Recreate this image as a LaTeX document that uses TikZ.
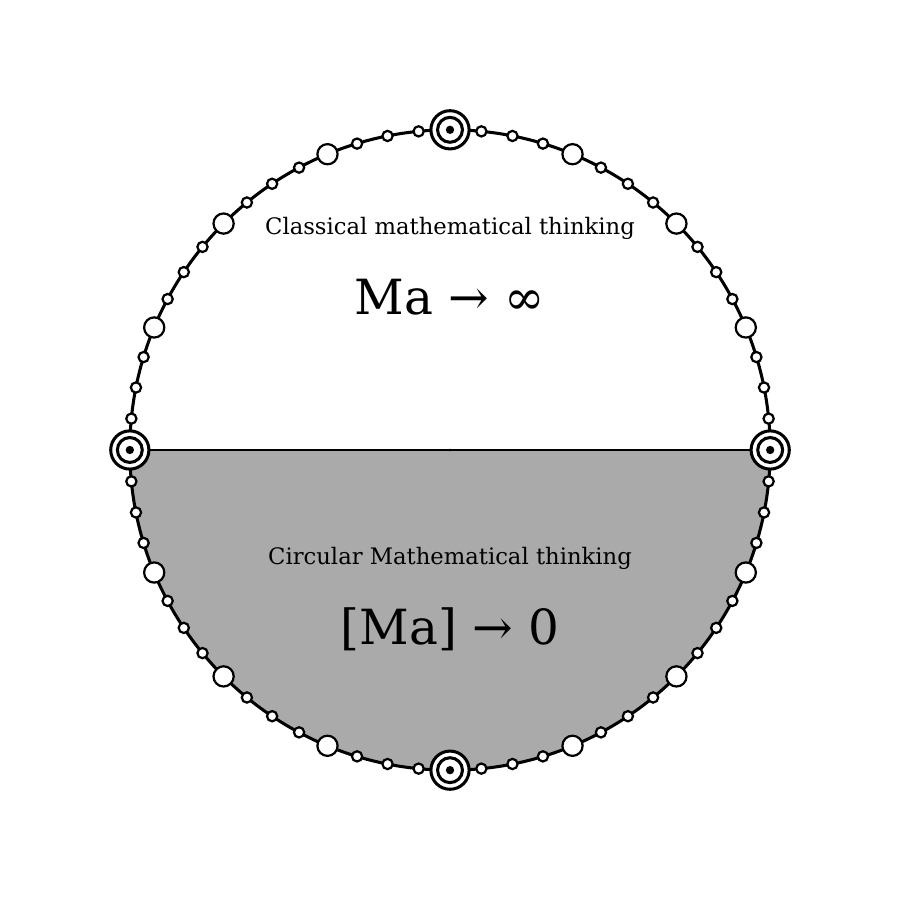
\documentclass[tikz,border=0pt]{standalone}
\usepackage{fontspec}
\setmainfont{DejaVu Serif}
\definecolor{halfgray}{HTML}{AAAAAA}
\begin{document}
\begin{tikzpicture}
		[x=0.01in,y=0.01in,
		ring/.style={draw=black,line width=2.2pt},
		smalldot/.style={circle,draw=black,fill=white,line width=1.6pt,
inner sep=0pt,minimum size=7.4pt},
		bigdot/.style={circle,draw=black,fill=white,line width=1.6pt,
inner sep=0pt,minimum size=14.6pt},
		target/.style={circle,draw=black,fill=white,line width=2.2pt,
inner sep=0pt,minimum size=27.6pt},
		targetin/.style={circle,draw=black,fill=white,line width=2.2pt,
inner sep=0pt,minimum size=18pt},
		targetdot/.style={circle,fill=black,inner sep=0pt,minimum size=6pt},
		textstyle/.style={font=\fontsize{16.4}{19}\selectfont,anchor=base},
		bigtext/.style={font=\fontsize{35}{42}\selectfont,anchor=base}]
		\useasboundingbox (0,0) rectangle (900,900);
		\coordinate (O) at (450,450);
		% lower half
		\fill[halfgray] ([shift={(0:3.2in)}]O) arc[start angle=0,end angle=-180,radius=3.2in] -- cycle;
		\draw[ring] (O) circle[radius=3.2in];
		% markers
		\foreach \i in {0,...,63}{
			\pgfmathtruncatemacro{\kind}{mod(\i,16)==0 ? 2 : (mod(\i,4)==0 ? 1 : 0)}
			\ifnum\kind=2
				\node (m\i) [target] at ([shift={(\i*5.625:3.2in)}]O) {};
				\node (m\i in) [targetin] at (m\i) {};
				\node (m\i dot) [targetdot] at (m\i) {};
			\else\ifnum\kind=1
				\node (m\i) [bigdot] at ([shift={(\i*5.625:3.2in)}]O) {};
			\else
				\node (m\i) [smalldot] at ([shift={(\i*5.625:3.2in)}]O) {};
			\fi\fi
		}
		\draw[line width=1.5pt] (m32) -- (m0);
		\node (c) [circle,fill=black,inner sep=0pt,minimum size=2pt] at (O) {};
		\node (t1) [textstyle] at (450,665) {Classical mathematical thinking};
		\node (t2) [bigtext] at (450,585) {Ma → ∞};
		\node (t3) [textstyle] at (450,335) {Circular Mathematical thinking};
		\node (t4) [bigtext] at (450,255) {[Ma] → 0};
	\end{tikzpicture}
\end{document}
